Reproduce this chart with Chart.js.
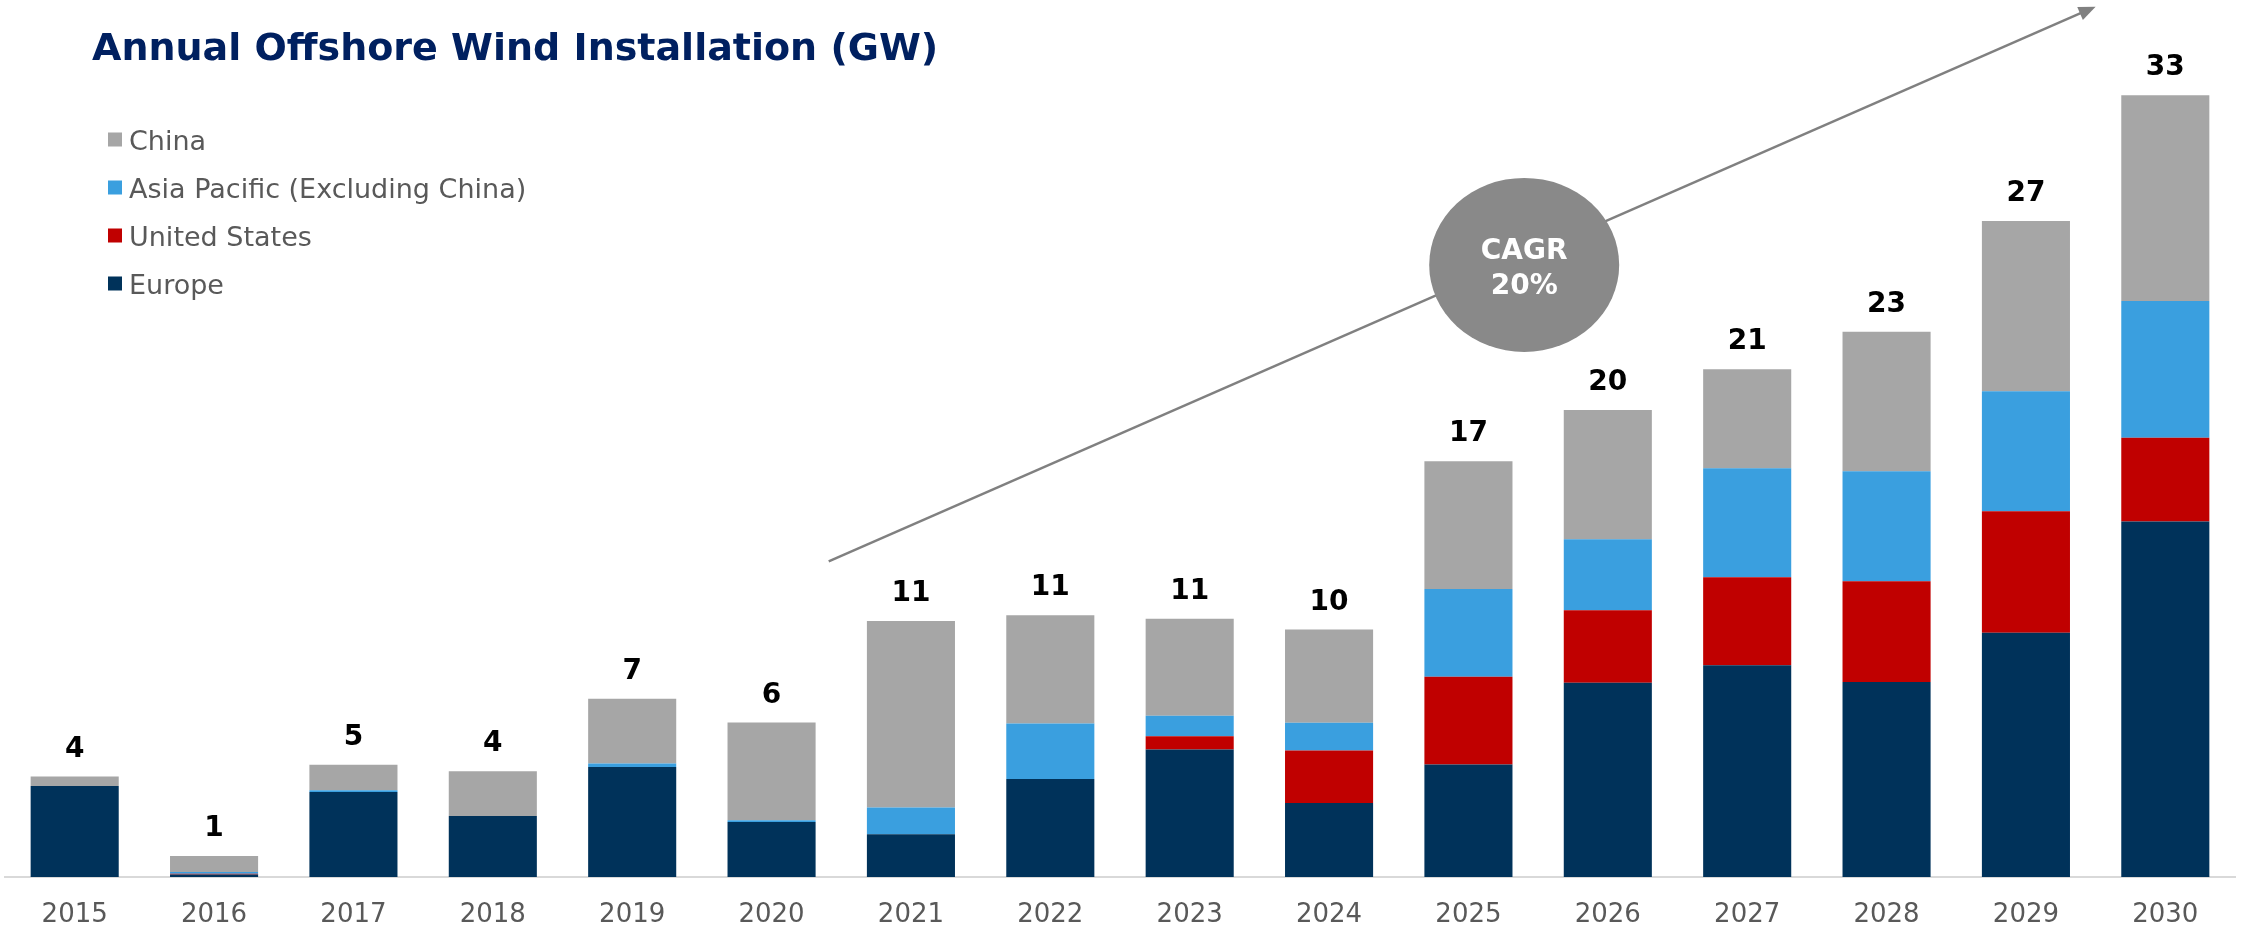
<!DOCTYPE html>
<html>
<head>
<meta charset="utf-8">
<title>Annual Offshore Wind Installation (GW)</title>
<script src="https://cdn.jsdelivr.net/npm/chart.js@4.4.1/dist/chart.umd.min.js"></script>
<style>
    html, body { margin: 0; padding: 0; width: 2242px; height: 928px; overflow: hidden; background: #fff; }
    #wrap { position: relative; width: 2242px; height: 953px; }
</style>
</head>
<body>
<div id="wrap"><canvas id="windChart" width="2242" height="953"></canvas></div>
<script>
// Data (GW)
const years = ['2015', '2016', '2017', '2018', '2019', '2020', '2021', '2022',
               '2023', '2024', '2025', '2026', '2027', '2028', '2029', '2030'];
const europe       = [3.81, 0.10, 3.56, 2.55, 4.60, 2.30, 1.79, 4.10, 5.33, 3.10, 4.71, 8.12, 8.86, 8.16, 10.21, 14.87];
const unitedStates = [0.00, 0.04, 0.00, 0.00, 0.00, 0.00, 0.00, 0.00, 0.56, 2.19, 3.67, 3.04, 3.68, 4.21, 5.09, 3.50];
const asiaPacific  = [0.00, 0.07, 0.07, 0.00, 0.15, 0.07, 1.12, 2.32, 0.85, 1.16, 3.67, 2.97, 4.56, 4.60, 5.02, 5.72];
const china        = [0.39, 0.67, 1.06, 1.87, 2.70, 4.09, 7.80, 4.53, 4.06, 3.90, 5.34, 5.40, 4.14, 5.83, 7.12, 8.60];

const seriesNames  = ['Europe', 'United States', 'Asia Pacific (Excluding China)', 'China'];
const seriesColors = ['#00325A', '#C00000', '#3A9FDF', '#A6A6A6'];

// CAGR annotation, in chart units (category index, GW)
const cagrText = ['CAGR', '20%'];
const arrowFrom = { x: 5.41, y: 13.2 };
const arrowTo = { x: 14.5, y: 36.4 };
const bubbleAt = { x: 10.4, y: 25.6 };

const totals = years.map((_, i) => europe[i] + unitedStates[i] + asiaPacific[i] + china[i]);

// draws title, legend, totals, the arrow and the CAGR bubble
const overlayPlugin = {
    id: 'overlay',
    afterDatasetsDraw(chart) {
        const ctx = chart.ctx;
        const x = chart.scales.x;
        const y = chart.scales.y;
        ctx.save();

        // totals above each stack
        ctx.fillStyle = '#000';
        ctx.font = 'bold 28px "DejaVu Sans"';
        ctx.textAlign = 'center';
        ctx.textBaseline = 'alphabetic';
        totals.forEach((t, i) => {
            ctx.fillText(Math.round(t), x.getPixelForValue(i), y.getPixelForValue(t) - 20);
        });

        // growth arrow
        const x1 = x.getPixelForValue(arrowFrom.x), y1 = y.getPixelForValue(arrowFrom.y);
        const x2 = x.getPixelForValue(arrowTo.x), y2 = y.getPixelForValue(arrowTo.y);
        const ang = Math.atan2(y2 - y1, x2 - x1);
        ctx.strokeStyle = '#808080';
        ctx.fillStyle = '#808080';
        ctx.lineWidth = 2.5;
        ctx.beginPath();
        ctx.moveTo(x1, y1);
        ctx.lineTo(x2 - 12 * Math.cos(ang), y2 - 12 * Math.sin(ang));
        ctx.stroke();
        ctx.beginPath();
        ctx.moveTo(x2, y2);
        ctx.lineTo(x2 - 17 * Math.cos(ang) + 7 * Math.sin(ang), y2 - 17 * Math.sin(ang) - 7 * Math.cos(ang));
        ctx.lineTo(x2 - 17 * Math.cos(ang) - 7 * Math.sin(ang), y2 - 17 * Math.sin(ang) + 7 * Math.cos(ang));
        ctx.closePath();
        ctx.fill();

        // CAGR bubble
        const cx = x.getPixelForValue(bubbleAt.x), cy = y.getPixelForValue(bubbleAt.y);
        ctx.fillStyle = '#898989';
        ctx.beginPath();
        ctx.ellipse(cx, cy, 95, 87, 0, 0, Math.PI * 2);
        ctx.fill();
        ctx.fillStyle = '#fff';
        ctx.font = 'bold 28px "DejaVu Sans"';
        ctx.fillText(cagrText[0], cx, cy - 6);
        ctx.fillText(cagrText[1], cx, cy + 29);

        // title
        ctx.textAlign = 'left';
        ctx.fillStyle = '#002060';
        ctx.font = 'bold 38px "DejaVu Sans"';
        ctx.fillText('Annual Offshore Wind Installation (GW)', 92, 60);

        // legend, China first
        ctx.font = '27px "DejaVu Sans"';
        for (let k = 0; k < 4; k++) {
            const s = 3 - k;
            const cyRow = 139.5 + k * 48;
            ctx.fillStyle = seriesColors[s];
            ctx.fillRect(108, cyRow - 7, 14, 14);
            ctx.fillStyle = '#595959';
            ctx.fillText(seriesNames[s], 129, cyRow + 10);
        }
        ctx.restore();
    }
};

const seriesData = [europe, unitedStates, asiaPacific, china];

new Chart(document.getElementById('windChart'), {
    type: 'bar',
    data: {
        labels: years,
        datasets: seriesNames.map((name, s) => ({
            label: name,
            data: seriesData[s],
            backgroundColor: seriesColors[s],
            borderWidth: 0,
            barPercentage: 0.632,
            categoryPercentage: 1,
            stack: 'total'
        }))
    },
    options: {
        responsive: false,
        animation: false,
        devicePixelRatio: 1,
        layout: { padding: { top: 21, left: 5, right: 7, bottom: 0 } },
        plugins: {
            legend: { display: false },
            tooltip: { enabled: false }
        },
        scales: {
            x: {
                stacked: true,
                grid: { display: false, drawTicks: false },
                border: { display: true, color: '#D9D9D9', width: 2 },
                ticks: {
                    color: '#595959',
                    font: { family: 'DejaVu Sans', size: 26, lineHeight: 1 },
                    padding: 25
                }
            },
            y: {
                stacked: true,
                display: false,
                min: 0,
                max: 35.8
            }
        }
    },
    plugins: [overlayPlugin]
});
</script>
</body>
</html>
